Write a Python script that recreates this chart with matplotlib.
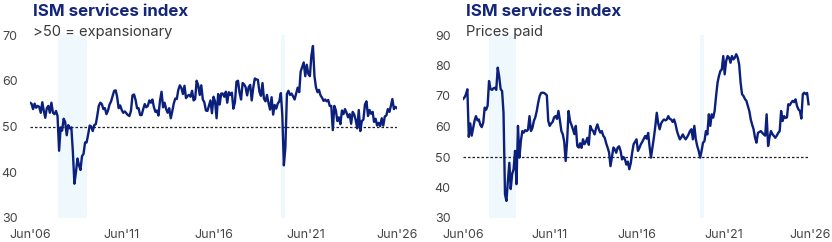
import matplotlib
matplotlib.use("Agg")
import matplotlib.pyplot as plt
import pandas as pd

plt.rcParams['font.family'] = ['Inter', 'DejaVu Sans']

# ---------------- data ----------------
start_month = "2006-06-01"

services_pmi = [
    # 2006 Jun-Dec
    55.2, 55.0, 53.8, 55.0, 54.1, 54.5, 54.3,
    # 2007
    53.0, 55.3, 53.5, 51.9, 54.0, 54.5, 53.0, 55.2, 53.0, 52.7, 53.4, 52.3,
    # 2008
    44.7, 49.8, 49.1, 51.7, 51.0, 48.1, 50.3, 49.6, 49.8, 44.5, 37.5, 40.0,
    # 2009
    43.0, 41.5, 40.5, 43.5, 44.0, 46.5, 46.5, 48.2, 50.2, 50.0, 49.0, 50.3,
    # 2010
    50.5, 52.5, 54.5, 55.2, 54.9, 53.8, 54.0, 52.7, 53.5, 54.8, 55.5, 56.6,
    # 2011
    57.8, 57.9, 56.5, 54.0, 54.6, 53.6, 53.0, 53.3, 52.9, 52.5, 52.3, 53.4,
    # 2012
    56.8, 57.0, 55.9, 54.0, 54.0, 52.5, 52.5, 53.8, 54.9, 54.2, 54.5, 55.7,
    # 2013
    55.2, 55.9, 54.3, 53.2, 53.5, 52.4, 55.6, 57.6, 54.2, 55.2, 53.8, 53.0,
    # 2014
    54.0, 51.8, 53.2, 55.0, 56.1, 56.0, 58.0, 59.0, 58.4, 57.1, 58.9, 56.2,
    # 2015
    56.7, 56.9, 56.5, 57.8, 55.7, 56.0, 60.0, 59.0, 56.9, 59.0, 55.9, 55.3,
    # 2016
    53.5, 53.4, 54.5, 55.7, 52.9, 56.5, 55.5, 51.8, 57.1, 54.8, 57.2, 57.2,
    # 2017
    56.5, 57.6, 55.2, 57.5, 56.9, 57.4, 53.9, 55.3, 59.8, 60.0, 57.4, 55.9,
    # 2018
    59.5, 59.2, 58.6, 56.8, 58.6, 59.1, 55.7, 58.5, 60.5, 60.3, 60.2, 57.6,
    # 2019
    56.7, 59.5, 56.1, 55.5, 56.9, 55.1, 53.7, 56.4, 52.6, 54.7, 53.9, 55.0,
    # 2020
    55.5, 57.3, 52.5, 41.5, 45.4, 57.1, 57.8, 56.9, 57.2, 56.6, 55.9, 57.2,
    # 2021
    58.5, 57.5, 62.0, 63.0, 64.0, 61.0, 63.5, 61.5, 61.0, 65.5, 67.6, 61.0,
    # 2022
    58.5, 57.5, 58.0, 56.8, 56.3, 55.6, 55.9, 55.5, 55.8, 54.5, 54.5, 49.2,
    # 2023
    54.5, 53.5, 51.2, 52.0, 50.5, 53.5, 52.7, 53.8, 53.0, 52.0, 52.7, 50.6,
    # 2024
    53.2, 52.6, 51.4, 49.6, 53.6, 49.0, 51.2, 51.5, 54.8, 55.5, 52.3, 53.6,
    # 2025
    52.8, 53.2, 51.0, 51.7, 50.2, 50.8, 50.1, 51.8, 50.2, 52.2, 52.4, 53.8,
    # 2026 Jan-Jun
    53.2, 54.6, 56.0, 53.8, 54.3, 54.0,
]

prices_paid = [
    # 2006 Jun-Dec
    69.0, 69.5, 70.5, 72.2, 56.6, 61.0, 57.0,
    # 2007
    59.5, 62.0, 63.4, 62.0, 62.3, 60.5, 59.8, 61.3, 66.2, 65.5, 66.8, 74.9,
    # 2008
    72.3, 72.0, 72.5, 72.7, 72.0, 79.3, 76.5, 72.3, 71.6, 64.5, 37.8, 35.6,
    # 2009
    42.1, 48.1, 39.5, 44.4, 46.0, 52.0, 41.1, 60.2, 49.8, 55.2, 58.5, 58.0,
    # 2010
    58.8, 58.5, 59.0, 63.4, 58.5, 59.5, 61.8, 63.0, 65.1, 67.8, 70.0, 71.0,
    # 2011
    71.1, 71.0, 70.7, 70.2, 61.8, 60.2, 61.0, 61.5, 63.0, 63.4, 62.5, 65.1,
    # 2012
    62.0, 58.5, 57.5, 55.0, 48.7, 55.2, 65.1, 61.8, 60.5, 59.1, 57.5, 60.2,
    # 2013
    53.6, 53.1, 54.5, 53.0, 55.8, 54.2, 55.0, 56.3, 54.0, 60.2, 59.0, 58.5,
    # 2014
    57.4, 59.5, 60.7, 59.0, 58.0, 58.5, 57.0, 56.3, 54.5, 53.1, 51.5, 47.0,
    # 2015
    50.0, 53.1, 52.5, 51.4, 53.1, 53.5, 52.0, 49.2, 50.0, 49.2, 47.5, 48.5,
    # 2016
    46.0, 48.0, 51.4, 54.2, 55.0, 55.8, 52.0, 53.0, 54.2, 55.0, 56.0, 56.9,
    # 2017
    56.0, 57.9, 53.6, 49.8, 53.0, 56.3, 60.0, 64.5, 61.0, 59.1, 61.0, 61.8,
    # 2018
    62.3, 62.0, 62.3, 63.4, 62.5, 62.3, 61.5, 62.3, 60.7, 58.5, 57.0, 55.8,
    # 2019
    56.5, 57.4, 56.5, 55.8, 56.5, 57.4, 58.5, 59.1, 55.8, 60.2, 55.8, 53.6,
    # 2020
    52.0, 49.8, 52.0, 54.7, 55.2, 58.5, 57.4, 64.0, 60.2, 64.0, 62.9, 65.1,
    # 2021
    70.0, 74.4, 76.5, 78.2, 78.7, 83.1, 77.1, 81.5, 83.1, 82.6, 80.9, 83.1,
    # 2022
    82.0, 82.6, 83.7, 82.6, 80.4, 74.4, 70.6, 70.0, 69.0, 68.4, 66.7, 65.1,
    # 2023
    62.3, 60.5, 59.1, 56.3, 54.7, 57.9, 58.2, 58.5, 57.9, 57.4, 57.0, 64.0,
    # 2024
    53.6, 56.5, 58.5, 57.5, 56.9, 56.3, 57.0, 57.9, 58.5, 65.1, 61.8, 63.4,
    # 2025
    62.8, 63.0, 67.3, 67.0, 67.8, 68.4, 68.0, 68.9, 66.7, 65.6, 65.1, 62.6,
    # 2026 Jan-May
    70.6, 71.1, 70.6, 71.0, 67.3,
]

recessions = [("2007-12-01", "2009-06-30"), ("2020-02-01", "2020-04-30")]
x_ticks = ["2006-06-01", "2011-06-01", "2016-06-01", "2021-06-01", "2026-06-01"]
x_tick_labels = ["Jun'06", "Jun'11", "Jun'16", "Jun'21", "Jun'26"]

panels = [
    dict(values=services_pmi, title="ISM services index", subtitle=">50 = expansionary",
         ylim=(30, 70), yticks=[30, 40, 50, 60, 70]),
    dict(values=prices_paid, title="ISM services index", subtitle="Prices paid",
         ylim=(30, 90), yticks=[30, 40, 50, 60, 70, 80, 90]),
]

# ---------------- style ----------------
W, H = 832, 242
LINE = "#0b1f7c"
TITLE = "#14267a"
TEXT = "#3a3a3a"
TICK = "#454545"
SHADE = "#eef8fd"

fig = plt.figure(figsize=(W / 100, H / 100), dpi=100)

axes_px = [(30, 35, 397, 218), (463, 35, 810, 218)]

for p, (x0, y0, x1, y1) in zip(panels, axes_px):
    ax = fig.add_axes([x0 / W, 1 - y1 / H, (x1 - x0) / W, (y1 - y0) / H])
    dates = pd.date_range(start_month, periods=len(p["values"]), freq="MS")
    for a, b in recessions:
        ax.axvspan(pd.Timestamp(a), pd.Timestamp(b), color=SHADE, lw=0, zorder=0)
    ax.axhline(50, color="#222222", lw=0.9, ls=(0, (2, 1.6)), zorder=1)
    ax.plot(dates, p["values"], color=LINE, lw=1.7, zorder=2, solid_joinstyle="round")
    ax.set_xlim(pd.Timestamp("2006-06-01"), pd.Timestamp("2026-06-01"))
    ax.set_ylim(*p["ylim"])
    ax.set_yticks(p["yticks"])
    ax.set_xticks([pd.Timestamp(t) for t in x_ticks])
    ax.set_xticklabels(x_tick_labels)
    for s in ax.spines.values():
        s.set_visible(False)
    ax.tick_params(length=0, labelsize=9.0, colors=TICK)
    ax.tick_params(axis="y", pad=9)
    ax.tick_params(axis="x", pad=8)
    ax.patch.set_alpha(0)
    fig.text((x0 + 3) / W, 1 - 12 / H, p["title"], fontsize=12.2, fontweight="bold",
             color=TITLE, va="center", ha="left")
    fig.text((x0 + 3) / W, 1 - 32 / H, p["subtitle"], fontsize=10.6,
             color=TEXT, va="center", ha="left")

fig.savefig("out.png", dpi=100)
